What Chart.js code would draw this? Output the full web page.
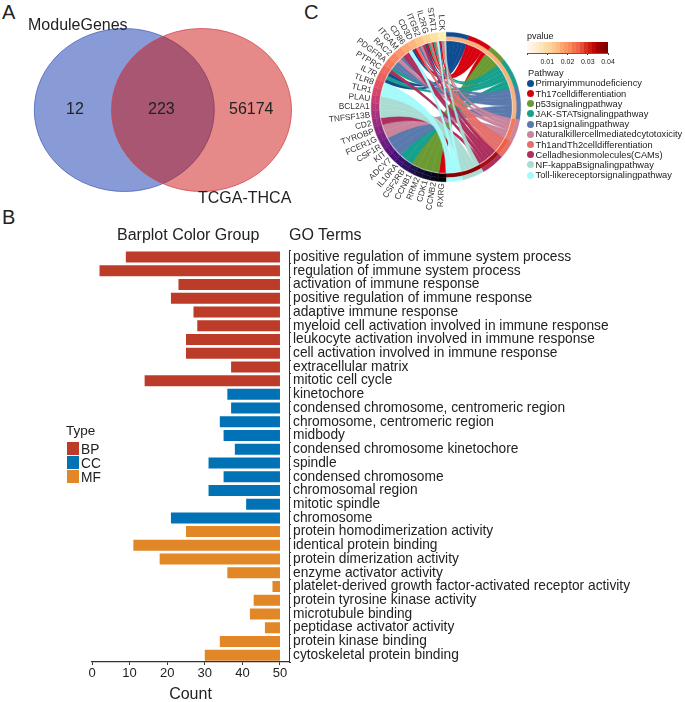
<!DOCTYPE html>
<html>
<head>
<meta charset="utf-8">
<title>Module genes, GO terms and pathways</title>
<script src="https://cdn.jsdelivr.net/npm/chart.js@4"></script>
<style>
    html, body { margin: 0; padding: 0; background: #fff; }
    #page { position: relative; width: 685px; height: 702px; overflow: hidden; font-family: "Liberation Sans", Arial, sans-serif; color: #222; }
    #page canvas { position: absolute; }
    .lbl { position: absolute; white-space: nowrap; transform: translateY(-50%); }
    .swatch { position: absolute; }
    .dot { position: absolute; border-radius: 50%; }
</style>
</head>
<body>
<div id="page"></div>
<script>
// Panel A
const vennSets = ["ModuleGenes", "TCGA-THCA"];
const vennCounts = [12, 223, 56174];

// Panel B
const goTerms = [
    "positive regulation of immune system process",
    "regulation of immune system process",
    "activation of immune response",
    "positive regulation of immune response",
    "adaptive immune response",
    "myeloid cell activation involved in immune response",
    "leukocyte activation involved in immune response",
    "cell activation involved in immune response",
    "extracellular matrix",
    "mitotic cell cycle",
    "kinetochore",
    "condensed chromosome, centromeric region",
    "chromosome, centromeric region",
    "midbody",
    "condensed chromosome kinetochore",
    "spindle",
    "condensed chromosome",
    "chromosomal region",
    "mitotic spindle",
    "chromosome",
    "protein homodimerization activity",
    "identical protein binding",
    "protein dimerization activity",
    "enzyme activator activity",
    "platelet-derived growth factor-activated receptor activity",
    "protein tyrosine kinase activity",
    "microtubule binding",
    "peptidase activator activity",
    "protein kinase binding",
    "cytoskeletal protein binding"
];
const goStart = [9, 2, 23, 21, 27, 28, 25, 25, 37, 14, 36, 37, 34, 35, 38, 31, 35, 31, 41, 21, 25, 11, 18, 36, 48, 43, 42, 46, 34, 30];
const goEnd = 50;
const goTypes = ["BP", "BP", "BP", "BP", "BP", "BP", "BP", "BP", "BP", "BP",
    "CC", "CC", "CC", "CC", "CC", "CC", "CC", "CC", "CC", "CC",
    "MF", "MF", "MF", "MF", "MF", "MF", "MF", "MF", "MF", "MF"];
const typeNames = ["BP", "CC", "MF"];
const typeColors = ["#bc3c29", "#0072b5", "#e18727"];

// Panel C
const pathways = [
    "Primaryimmunodeficiency", "Th17celldifferentiation", "p53signalingpathway",
    "JAK-STATsignalingpathway", "Rap1signalingpathway", "Naturalkillercellmediatedcytotoxicity",
    "Th1andTh2celldifferentiation", "Celladhesionmolecules(CAMs)", "NF-kappaBsignalingpathway",
    "Toll-likereceptorsignalingpathway"
];
const pathwaySizes = [18, 18.7, 14.3, 23, 26, 18, 14, 18, 17, 13];
const pathwayColors = ["#0f4c92", "#d7000f", "#6b9a33", "#16a08e", "#5a79ac", "#c9859c", "#e46f6b", "#ad2f5d", "#abdcd3", "#a5fbfb"];
const pathwayPColors = ["#f8b27d", "#f8b27d", "#f8b27d", "#f8b27d", "#f8b27d", "#f4785a", "#ee5f42", "#a80f12", "#8b0000", "#8b0000"];
const genes = ["LCK", "STAT1", "IL2RG", "ITGB2", "CD3D", "CD86", "ITGAM", "RAC2", "PDGFRA", "PTPRC",
    "IL7R", "TLR8", "TLR1", "PLAU", "BCL2A1", "TNFSF13B", "CD2", "TYROBP", "FCER1G", "CSF1R",
    "KIT", "ADCY7", "IL10RA", "CSF2RB", "CCNB1", "RRM2", "CDK1", "CCNB2", "RXRG"];
const geneColors = ["#fcf1b3", "#fde2a3", "#fed395", "#fec488", "#feb47b", "#fea570", "#fd9567", "#fa8660", "#f6785c", "#f1695c",
    "#ea5e5f", "#e05163", "#d6456c", "#c83e73", "#b83779", "#a8327d", "#982d80", "#882781", "#792282", "#6a1c81",
    "#5a167e", "#4a1079", "#3b0f70", "#2c115f", "#1f114a", "#140e36", "#0d0a25", "#060415", "#000004"];
const pathwayGenes = [
    ["LCK", "IL2RG", "CD3D", "PTPRC", "IL7R"],
    ["LCK", "STAT1", "IL2RG", "CD3D", "RXRG"],
    ["CCNB1", "RRM2", "CDK1", "CCNB2"],
    ["STAT1", "IL2RG", "PDGFRA", "IL7R", "IL10RA", "CSF2RB"],
    ["ITGB2", "ITGAM", "RAC2", "PDGFRA", "CSF1R", "KIT", "ADCY7"],
    ["LCK", "ITGB2", "RAC2", "TYROBP", "FCER1G"],
    ["LCK", "STAT1", "IL2RG", "CD3D"],
    ["ITGB2", "CD86", "ITGAM", "PTPRC", "CD2"],
    ["LCK", "PLAU", "BCL2A1", "TNFSF13B"],
    ["STAT1", "CD86", "TLR8", "TLR1"]
];
const pvalueTicks = [0.01, 0.02, 0.03, 0.04];
const pvalueCells = ["#fff7ec", "#fff1dc", "#feeacc", "#fee3bc", "#fddcab", "#fdd49e", "#fdc88f", "#fdbb84", "#fca772", "#fc9661",
    "#fb8a57", "#f4744d", "#ef6548", "#e34c35", "#d7301f", "#c81d13", "#b80c08", "#a50000", "#920000", "#7f0000"];
const pvalueCellSize = 0.002;

const page = document.getElementById("page");
const FONT = '"Liberation Sans", Arial, sans-serif';
Chart.defaults.font.family = FONT;
Chart.defaults.color = "#222";
Chart.defaults.animation = false;

function addText(str, x, y, size) {
    const el = document.createElement("div");
    el.className = "lbl";
    el.textContent = str;
    el.style.left = x + "px";
    el.style.top = y + "px";
    el.style.fontSize = size + "px";
    page.appendChild(el);
}

function addCanvas(x, y, w, h) {
    const c = document.createElement("canvas");
    c.width = w;
    c.height = h;
    c.style.left = x + "px";
    c.style.top = y + "px";
    c.style.width = w + "px";
    c.style.height = h + "px";
    page.appendChild(c);
    return c.getContext("2d");
}

// panel letters
addText("A", 2, 12, 20);
addText("B", 2, 217, 20);
addText("C", 304, 12, 20);

// ---------- Venn ----------
const vennPlugin = {
    id: "venn",
    beforeDatasetsDraw(chart) {
        const ctx = chart.ctx;
        const xs = chart.scales.x, ys = chart.scales.y;
        const ell = [
            { cx: 124.3, fill: "rgba(19,55,173,0.5)", edge: "rgba(70,95,190,0.75)" },
            { cx: 201.5, fill: "rgba(201,14,10,0.485)", edge: "rgba(210,65,75,0.75)" }
        ];
        ell.forEach(e => {
            const px = xs.getPixelForValue(e.cx);
            const py = ys.getPixelForValue(110);
            const rx = xs.getPixelForValue(e.cx + 90) - px;
            const ry = ys.getPixelForValue(110 + 81.5) - py;
            ctx.save();
            ctx.beginPath();
            ctx.ellipse(px, py, rx, ry, 0, 0, Math.PI * 2);
            ctx.fillStyle = e.fill;
            ctx.fill();
            ctx.lineWidth = 1;
            ctx.strokeStyle = e.edge;
            ctx.stroke();
            ctx.restore();
        });
    }
};

new Chart(addCanvas(0, 0, 310, 220), {
    type: "scatter",
    data: { datasets: [{ data: [] }] },
    options: {
        responsive: false,
        plugins: { legend: { display: false }, tooltip: { enabled: false } },
        scales: {
            x: { type: "linear", min: 0, max: 310, display: false },
            y: { type: "linear", min: 0, max: 220, reverse: true, display: false }
        }
    },
    plugins: [vennPlugin]
});

addText(vennSets[0], 28, 25, 16);
addText(vennSets[1], 198, 198, 16);
addText(String(vennCounts[0]), 66, 109, 16);
addText(String(vennCounts[1]), 148, 109, 16);
addText(String(vennCounts[2]), 229, 109, 16);

// ---------- Barplot ----------
new Chart(addCanvas(0, 240, 685, 464), {
    type: "bar",
    data: {
        labels: goTerms,
        datasets: [{
            data: goStart.map(v => [v, goEnd]),
            backgroundColor: goTypes.map(t => typeColors[typeNames.indexOf(t)]),
            barPercentage: 0.8,
            categoryPercentage: 1
        }]
    },
    options: {
        indexAxis: "y",
        responsive: false,
        layout: { padding: { left: 92, top: 8.6, right: 0, bottom: 0 } },
        plugins: { legend: { display: false }, tooltip: { enabled: false } },
        scales: {
            x: {
                type: "linear",
                min: 0,
                max: 52.4,
                afterFit(s) { s.height = 42; },
                border: { color: "#333", width: 1.3 },
                grid: { drawOnChartArea: false, tickLength: 3, color: "#333" },
                ticks: { stepSize: 10, includeBounds: false, font: { size: 13 }, padding: 1, maxRotation: 0 },
                title: { display: true, text: "Count", font: { size: 16 }, padding: 0 }
            },
            y: {
                type: "category",
                position: "right",
                afterFit(s) { s.width = 396; },
                border: { color: "#333", width: 1 },
                grid: { drawOnChartArea: false, tickLength: 2, color: "#333" },
                ticks: { autoSkip: false, crossAlign: "near", font: { size: 13.75 }, padding: 2, color: "#222" }
            }
        }
    }
});

addText("Barplot Color Group", 117, 235, 16);
addText("GO Terms", 289, 235, 16);
addText("Type", 66, 430, 13.5);
typeNames.forEach((name, i) => {
    const sw = document.createElement("div");
    sw.className = "swatch";
    sw.style.cssText = `left:67px;top:${442 + i * 14}px;width:12px;height:13px;background:${typeColors[i]}`;
    page.appendChild(sw);
    addText(name, 81, 449 + i * 14, 13.75);
});

// ---------- Chord ----------
const geneSizes = genes.map(() => 180 / genes.length);
const ringGeneOrder = genes.map((g, i) => genes.length - 1 - i);

const chordPlugin = {
    id: "chord",
    beforeDatasetsDraw(chart) {
        const arcs = chart.getDatasetMeta(0).data;
        const ctx = chart.ctx;
        const cx = arcs[0].x, cy = arcs[0].y;
        const r = chart.getDatasetMeta(1).data[0].innerRadius - 1;

        // slice each gene arc between its pathways, lower end first
        const geneCursor = {};
        genes.forEach((g, i) => {
            const arc = arcs[pathways.length + ringGeneOrder[i]];
            const links = pathwayGenes.filter(list => list.includes(g)).length;
            geneCursor[g] = { at: arc.startAngle, step: (arc.endAngle - arc.startAngle) / links };
        });

        pathwayGenes.forEach((list, p) => {
            const arc = arcs[p];
            const step = (arc.endAngle - arc.startAngle) / list.length;
            list.forEach((g, k) => {
                const b1 = arc.startAngle + step * k;
                const b2 = b1 + step;
                const cur = geneCursor[g];
                const a1 = cur.at;
                const a2 = a1 + cur.step;
                cur.at = a2;
                ctx.save();
                ctx.beginPath();
                ctx.arc(cx, cy, r, a1, a2);
                ctx.quadraticCurveTo(cx, cy, cx + r * Math.cos(b1), cy + r * Math.sin(b1));
                ctx.arc(cx, cy, r, b1, b2);
                ctx.quadraticCurveTo(cx, cy, cx + r * Math.cos(a1), cy + r * Math.sin(a1));
                ctx.closePath();
                ctx.fillStyle = pathwayColors[p];
                ctx.fill();
                // same colour edge hides the seam between neighbours
                ctx.lineWidth = 0.5;
                ctx.strokeStyle = pathwayColors[p];
                ctx.stroke();
                ctx.restore();
            });
        });
    },
    afterDraw(chart) {
        const arcs = chart.getDatasetMeta(0).data;
        const ctx = chart.ctx;
        const cx = arcs[0].x, cy = arcs[0].y;
        const R = arcs[0].outerRadius + 1.5;
        ctx.save();
        ctx.font = "8.3px " + FONT;
        ctx.fillStyle = "#333";
        ctx.textAlign = "right";
        ctx.textBaseline = "middle";
        genes.forEach((g, i) => {
            const arc = arcs[pathways.length + ringGeneOrder[i]];
            const mid = (arc.startAngle + arc.endAngle) / 2;
            ctx.save();
            ctx.translate(cx + R * Math.cos(mid), cy + R * Math.sin(mid));
            ctx.rotate(mid + Math.PI);
            ctx.fillText(g, 0, 0);
            ctx.restore();
        });
        ctx.restore();
    }
};

const outerColors = pathwayColors.concat(ringGeneOrder.map(i => geneColors[i]));
const innerColors = pathwayPColors.concat(ringGeneOrder.map(i => geneColors[i]));

new Chart(addCanvas(326, 0, 240, 214), {
    type: "doughnut",
    data: {
        labels: pathways.concat(ringGeneOrder.map(i => genes[i])),
        datasets: [
            {
                data: pathwaySizes.concat(ringGeneOrder.map(i => geneSizes[i])),
                backgroundColor: outerColors,
                borderColor: outerColors,
                borderWidth: 0.4
            },
            {
                data: pathwaySizes.concat(ringGeneOrder.map(i => geneSizes[i])),
                backgroundColor: innerColors,
                borderColor: innerColors,
                borderWidth: 0.4
            }
        ]
    },
    options: {
        responsive: false,
        cutout: "89.3%",
        layout: { padding: { left: 45, right: 45, top: 32, bottom: 32 } },
        plugins: { legend: { display: false }, tooltip: { enabled: false } }
    },
    plugins: [chordPlugin]
});

// ---------- p value colour bar ----------
new Chart(addCanvas(517, 36, 110, 38), {
    type: "bar",
    data: {
        labels: ["pvalue"],
        datasets: pvalueCells.map(c => ({
            data: [pvalueCellSize],
            backgroundColor: c,
            borderWidth: 0,
            barPercentage: 1,
            categoryPercentage: 1
        }))
    },
    options: {
        indexAxis: "y",
        responsive: false,
        layout: { padding: { left: 10, right: 19, top: 6, bottom: 0 } },
        plugins: { legend: { display: false }, tooltip: { enabled: false } },
        scales: {
            x: {
                type: "linear",
                stacked: true,
                min: 0,
                max: 0.04,
                afterFit(s) { s.height = 21; },
                border: { color: "#333", width: 0.8 },
                grid: { drawOnChartArea: false, tickLength: 2, color: "#333" },
                ticks: {
                    stepSize: 0.01,
                    font: { size: 7 },
                    padding: 3,
                    maxRotation: 0,
                    callback: v => pvalueTicks.some(t => Math.abs(t - v) < 1e-6) ? v.toFixed(2) : ""
                }
            },
            y: { stacked: true, display: false }
        }
    }
});
addText("pvalue", 527, 36, 9);
addText("Pathway", 528, 72.5, 9.3);
pathways.forEach((name, i) => {
    const y = 83.3 + i * 10.2;
    const d = document.createElement("div");
    d.className = "dot";
    d.style.cssText = `left:527px;top:${y - 3.5}px;width:7px;height:7px;background:${pathwayColors[i]}`;
    page.appendChild(d);
    addText(name, 535.5, y, 9.3);
});
</script>
</body>
</html>
